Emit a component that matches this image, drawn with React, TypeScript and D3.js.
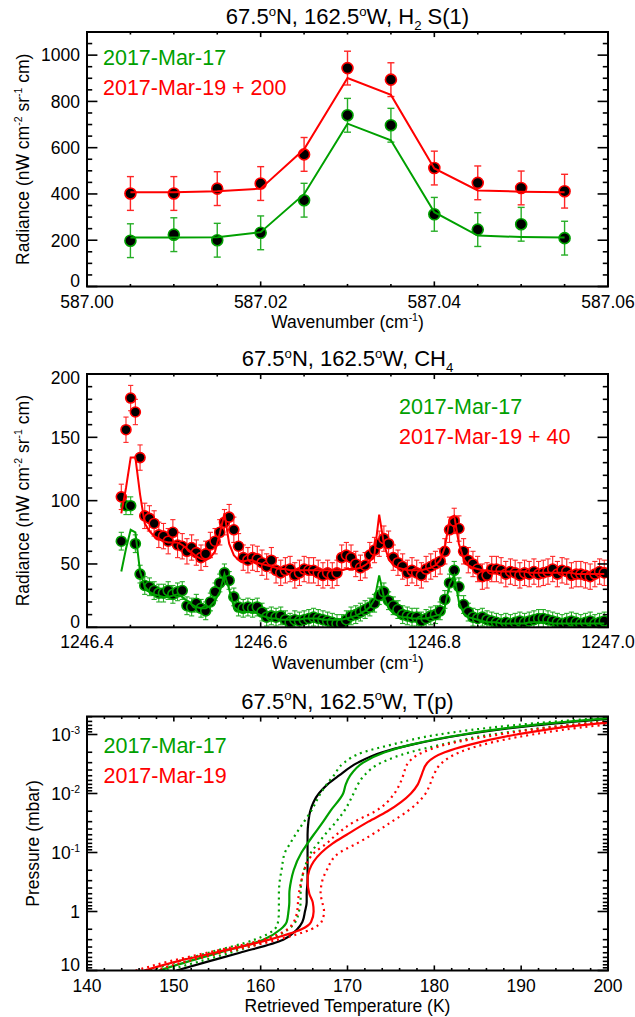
import React from "react";
import * as d3 from "d3";

const FONT = "'Liberation Sans', Arial, Helvetica, sans-serif";
const GREEN = "#00a000";
const RED = "#ff0000";
const BLACK = "#000000";

const LEGEND_MAR17 = "2017-Mar-17";
const LEGEND_MAR19_H2 = "2017-Mar-19 + 200";
const LEGEND_MAR19_CH4 = "2017-Mar-19 + 40";
const LEGEND_MAR19 = "2017-Mar-19";

// ---------- Panel 1: H2 S(1) ----------
const H2_WAVENUMBER = [587.005, 587.01, 587.015, 587.02, 587.025, 587.03, 587.035, 587.04, 587.045, 587.05, 587.055];
const H2_MAR17 = [198, 224, 200, 232, 373, 740, 697, 312, 246, 269, 209];
const H2_MAR17_MODEL = [212, 212, 213, 235, 399, 704, 632, 321, 220, 214, 212];
const H2_MAR19 = [402, 402, 423, 445, 571, 944, 894, 512, 448, 426, 412];
const H2_MAR19_MODEL = [407, 407, 412, 423, 593, 901, 828, 510, 415, 410, 407];
const H2_ERR = 73;
const H2_X_TICKS = [587.0, 587.02, 587.04, 587.06];
const H2_Y_TICKS = [0, 200, 400, 600, 800, 1000];

// ---------- Panel 2: CH4 ----------
const CH4_START = 1246.4395;
const CH4_STEP = 0.0054;
const CH4_MAR17 = [
  68, 96, 96, 66, 42, 33, 32, 29, 27, 27,
  29, 26, 28, 29, 17, 16, 19, 15, 13, 20,
  28, 35, 43, 37, 24, 16, 15, 16, 15, 16,
  12, 8, 9, 8, 9, 6, 4, 6, 5, 6,
  7, 8, 7, 6, 5, 4, 3, 3, 6, 9,
  10, 12, 14, 16, 19, 25, 28, 21, 17, 14,
  10, 9, 8, 8, 5, 7, 9, 10, 13, 22,
  35, 45, 32, 18, 12, 8, 7, 8, 6, 5,
  4, 3, 4, 3, 4, 5, 4, 5, 6, 7,
  7, 6, 5, 4, 3, 4, 5, 4, 3, 4,
  5, 3, 4, 5,
];
const CH4_MAR17_MODEL = [
  44, 62, 77, 75, 44, 32, 28, 26, 25, 24,
  24, 25, 26, 24, 21, 18, 16, 15, 15, 17,
  21, 28, 42, 30, 16, 13, 12, 12, 12, 11,
  9, 8, 7, 7, 6, 6, 6, 6, 6, 7,
  7, 7, 7, 6, 6, 6, 6, 6, 7, 8,
  9, 11, 13, 16, 22, 41, 24, 15, 11, 9,
  8, 8, 7, 7, 7, 7, 8, 9, 10, 16,
  34, 41, 20, 11, 8, 7, 6, 5, 4, 4,
  4, 3, 3, 3, 3, 3, 3, 4, 4, 4,
  4, 4, 3, 3, 3, 3, 3, 3, 3, 3,
  3, 3, 3, 3,
];
const CH4_MAR19 = [
  103, 156, 181, 170, 134, 88, 86, 82, 73, 72,
  68, 75, 65, 64, 60, 63, 59, 55, 58, 65,
  68, 75, 83, 87, 77, 64, 55, 53, 55, 54,
  51, 48, 53, 45, 43, 45, 46, 41, 43, 46,
  45, 45, 43, 41, 43, 41, 43, 55, 57, 55,
  50, 47, 49, 57, 61, 66, 70, 66, 55, 51,
  48, 43, 45, 43, 41, 46, 48, 50, 52, 60,
  77, 84, 78, 60, 53, 50, 46, 40, 41, 46,
  46, 45, 42, 44, 43, 41, 43, 42, 44, 42,
  43, 44, 46, 42, 45, 44, 41, 42, 42, 41,
  40, 42, 44, 43,
];
const CH4_MAR19_MODEL = [
  90, 110, 134, 134, 105, 82, 76, 72, 70, 68,
  67, 67, 67, 65, 62, 59, 56, 54, 53, 55,
  60, 74, 90, 66, 57, 53, 52, 53, 53, 51,
  50, 49, 48, 47, 46, 46, 45, 45, 45, 45,
  45, 45, 45, 45, 45, 45, 45, 45, 46, 46,
  46, 47, 49, 52, 58, 89, 66, 54, 49, 47,
  46, 45, 45, 45, 45, 46, 47, 49, 53, 63,
  85, 88, 66, 54, 49, 47, 46, 45, 45, 44,
  44, 44, 44, 44, 44, 44, 44, 43, 43, 43,
  43, 43, 43, 43, 43, 43, 43, 42, 42, 42,
  42, 42, 42, 42,
];
const CH4_ERR_MAR17 = 7;
const CH4_ERR_MAR19 = 10;
const CH4_WAVENUMBER = CH4_MAR17.map((_, i) => CH4_START + i * CH4_STEP);
const CH4_X_TICKS = [1246.4, 1246.6, 1246.8, 1247.0];
const CH4_Y_TICKS = [0, 50, 100, 150, 200];

// ---------- Panel 3: T(p) ----------
const PRESSURE_MBAR = [10, 7, 5, 3, 2, 1.5, 1, 0.7, 0.5, 0.3, 0.2, 0.1, 0.07, 0.05, 0.03, 0.02, 0.01, 0.007, 0.005, 0.003, 0.002, 0.0015, 0.001, 0.0007, 0.0005];
const T_PRIOR = [150.3, 154, 157.6, 162.6, 164.2, 164.8, 165.1, 165.3, 165.3, 165.4, 165.4, 165.4, 165.4, 165.4, 165.5, 165.7, 166.7, 167.7, 169, 171.2, 174, 177.3, 183.5, 191.6, 203];
const T_MAR17 = [148.3, 151.7, 155.2, 160.3, 162.3, 163, 163.2, 163.3, 163.3, 163.5, 163.8, 164.7, 165.4, 166.1, 167.2, 168, 169.5, 169.8, 170.3, 171.8, 174.3, 177.2, 183.3, 191, 202];
const T_MAR17_LOW = [147.3, 150.5, 154, 159.3, 161.6, 162, 162.1, 162.1, 162.1, 162.2, 162.4, 162.8, 163.4, 164, 165, 165.8, 166.9, 167.6, 168.4, 169.6, 171.8, 175, 180.5, 189, 201];
const T_MAR17_HIGH = [149.2, 153, 156.5, 161, 163.2, 164, 164.4, 164.6, 164.6, 164.7, 165, 165.8, 166.6, 167.4, 168.7, 169.6, 170.7, 171.2, 171.9, 173.9, 177.2, 180.7, 186.6, 195, 205];
const T_MAR19 = [146.6, 150.4, 154.7, 161, 164.7, 165.8, 166.1, 166, 165.6, 165.4, 165.6, 167, 168.3, 169.9, 172.4, 174.6, 177.3, 178.1, 178.5, 179.2, 181.2, 184, 189.5, 196.7, 208];
const T_MAR19_LOW = [145.6, 149.5, 153.8, 160.3, 163.1, 163.8, 164.2, 164.3, 164.4, 164.7, 165, 166.2, 167.6, 168.7, 170.8, 173.2, 175.4, 176, 176.4, 177, 178.7, 181.2, 187.5, 195.5, 207];
const T_MAR19_HIGH = [147.8, 151.5, 155.6, 162, 165.8, 167, 167.3, 167.1, 166.9, 167.1, 167.6, 169.1, 171.1, 172.8, 175.1, 176.9, 179, 179.5, 179.9, 180.9, 182.9, 185.5, 191.3, 199, 210];
const T_X_TICKS = [140, 150, 160, 170, 180, 190, 200];
const P_TICKS = [10, 1, 0.1, 0.01, 0.001];

// ---------- geometry ----------
const LEFT = 87;
const RIGHT = 608;

type Seg = [string, ("sup" | "sub")?];

function RichText(props: { x: number; y: number; segs: Seg[]; size: number; anchor?: string; fill?: string; transform?: string }) {
  const { x, y, segs, size, anchor = "start", fill = BLACK, transform } = props;
  let cur = 0;
  const kids = segs.map((s, i) => {
    const kind = s[1];
    const target = kind === "sup" ? -size * 0.38 : kind === "sub" ? size * 0.28 : 0;
    const dy = target - cur;
    cur = target;
    return (
      <tspan key={i} dy={dy} fontSize={kind ? size * 0.6 : size}>
        {s[0]}
      </tspan>
    );
  });
  return (
    <text x={x} y={y} fontFamily={FONT} fontSize={size} textAnchor={anchor as any} fill={fill} transform={transform}>
      {kids}
    </text>
  );
}

function Frame(props: {
  xs: any; ys: any;
  xMajor: number[]; xMinor: number[]; yMajor: number[]; yMinor: number[];
  xFmt: (v: number) => string; yFmt: (v: number) => Seg[];
  title: Seg[]; xTitle: Seg[]; yTitle: Seg[]; yTitleX: number;
}) {
  const { xs, ys, xMajor, xMinor, yMajor, yMinor, xFmt, yFmt, title, xTitle, yTitle, yTitleX } = props;
  const [x0, x1] = xs.range();
  const [yb, yt] = ys.range();
  const xLen = 0.02 * (yb - yt);
  const yLen = 0.02 * (x1 - x0);
  const yMid = (yb + yt) / 2;
  const xMid = (x0 + x1) / 2;
  return (
    <g>
      {xMajor.map((v, i) => (
        <g key={"xM" + i}>
          <line x1={xs(v)} x2={xs(v)} y1={yb} y2={yb - xLen} stroke={BLACK} strokeWidth={1.6} />
          <line x1={xs(v)} x2={xs(v)} y1={yt} y2={yt + xLen} stroke={BLACK} strokeWidth={1.6} />
        </g>
      ))}
      {xMinor.map((v, i) => (
        <g key={"xm" + i}>
          <line x1={xs(v)} x2={xs(v)} y1={yb} y2={yb - xLen / 2} stroke={BLACK} strokeWidth={1.6} />
          <line x1={xs(v)} x2={xs(v)} y1={yt} y2={yt + xLen / 2} stroke={BLACK} strokeWidth={1.6} />
        </g>
      ))}
      {yMajor.map((v, i) => (
        <g key={"yM" + i}>
          <line x1={x0} x2={x0 + yLen} y1={ys(v)} y2={ys(v)} stroke={BLACK} strokeWidth={1.6} />
          <line x1={x1} x2={x1 - yLen} y1={ys(v)} y2={ys(v)} stroke={BLACK} strokeWidth={1.6} />
        </g>
      ))}
      {yMinor.map((v, i) => (
        <g key={"ym" + i}>
          <line x1={x0} x2={x0 + yLen / 2} y1={ys(v)} y2={ys(v)} stroke={BLACK} strokeWidth={1.6} />
          <line x1={x1} x2={x1 - yLen / 2} y1={ys(v)} y2={ys(v)} stroke={BLACK} strokeWidth={1.6} />
        </g>
      ))}
      <rect x={x0} y={yt} width={x1 - x0} height={yb - yt} fill="none" stroke={BLACK} strokeWidth={2} />
      {xMajor.map((v, i) => (
        <text key={"xl" + i} x={xs(v)} y={yb + 21} fontFamily={FONT} fontSize={17.5} textAnchor="middle">
          {xFmt(v)}
        </text>
      ))}
      {yMajor.map((v, i) => {
        const by = Math.max(yt + 10, Math.min(yb + 0.5, ys(v) + 6.3));
        return <RichText key={"yl" + i} x={x0 - 7} y={by} segs={yFmt(v)} size={17.5} anchor="end" />;
      })}
      <RichText x={xMid} y={yt - 8} segs={title} size={22} anchor="middle" />
      <RichText x={xMid} y={yb + 41.5} segs={xTitle} size={17.5} anchor="middle" />
      <RichText x={yTitleX} y={yMid} segs={yTitle} size={17.5} anchor="middle" transform={`rotate(-90, ${yTitleX}, ${yMid})`} />
    </g>
  );
}

function ErrorBars(props: { xs: any; ys: any; xv: number[]; yv: number[]; err: number; color: string; cap: number; width: number }) {
  const { xs, ys, xv, yv, err, color, cap, width } = props;
  return (
    <g stroke={color} strokeWidth={width} opacity={0.85}>
      {yv.map((v, i) => {
        const x = xs(xv[i]);
        const a = ys(v + err);
        const b = ys(v - err);
        return (
          <g key={i}>
            <line x1={x} x2={x} y1={a} y2={b} />
            <line x1={x - cap} x2={x + cap} y1={a} y2={a} />
            <line x1={x - cap} x2={x + cap} y1={b} y2={b} />
          </g>
        );
      })}
    </g>
  );
}

function Dots(props: { xs: any; ys: any; xv: number[]; yv: number[]; color: string; r: number }) {
  const { xs, ys, xv, yv, color, r } = props;
  return (
    <g>
      {yv.map((v, i) => (
        <circle key={i} cx={xs(xv[i])} cy={ys(v)} r={r} fill={BLACK} stroke={color} strokeWidth={1.6} />
      ))}
    </g>
  );
}

const titleSegs = (last: Seg[]): Seg[] => [["67.5"], ["o", "sup"], ["N, 162.5"], ["o", "sup"], ...last];
const radianceTitle: Seg[] = [["Radiance (nW cm"], ["-2", "sup"], [" sr"], ["-1", "sup"], [" cm)"]];
const wavenumberTitle: Seg[] = [["Wavenumber (cm"], ["-1", "sup"], [")"]];

export default function App() {
  const xs1 = d3.scaleLinear().domain([587.0, 587.06]).range([LEFT, RIGHT]);
  const ys1 = d3.scaleLinear().domain([0, 1100]).range([286.5, 32]);
  const xs2 = d3.scaleLinear().domain([1246.4, 1247.0]).range([LEFT, RIGHT]);
  const ys2 = d3.scaleLinear().domain([0, 200]).range([627.3, 374]);
  const xs3 = d3.scaleLinear().domain([140, 200]).range([LEFT, RIGHT]);
  const ys3 = d3.scaleLog().domain([10, Math.pow(10, -3.305)]).range([970.5, 716.5]);

  const line1 = (vals: number[]) =>
    d3.line<number>().x((_, i) => xs1(H2_WAVENUMBER[i])).y((d) => ys1(d))(vals) || "";
  const line2 = (vals: number[]) =>
    d3.line<number>().x((_, i) => xs2(CH4_WAVENUMBER[i])).y((d) => ys2(d))(vals) || "";
  const line3 = (vals: number[]) =>
    d3.line<number>().x((d) => xs3(d)).y((_, i) => ys3(PRESSURE_MBAR[i])).curve(d3.curveMonotoneY)(vals) || "";

  const h2Minor = d3.range(0, 13).map((i) => 587 + i * 0.005).filter((v) => !H2_X_TICKS.some((t) => Math.abs(t - v) < 1e-6));
  const h2YMinor = d3.range(0, 1101, 50).filter((v) => v % 200 !== 0);
  const ch4Minor = d3.range(0, 13).map((i) => 1246.4 + i * 0.05).filter((v) => !CH4_X_TICKS.some((t) => Math.abs(t - v) < 1e-6));
  const ch4YMinor = d3.range(0, 201, 10).filter((v) => v % 50 !== 0);
  const tMinor = d3.range(140, 201, 2).filter((v) => v % 10 !== 0);
  const pMinor: number[] = [];
  [-4, -3, -2, -1, 0].forEach((e) => {
    for (let m = 2; m <= 9; m++) {
      const v = m * Math.pow(10, e);
      if (v <= 10 && v >= Math.pow(10, -3.305)) pMinor.push(v);
    }
  });
  const pFmt = (v: number): Seg[] => {
    const e = Math.round(Math.log10(v));
    if (e === 0) return [["1"]];
    if (e === 1) return [["10"]];
    return [["10"], [String(e), "sup"]];
  };

  return (
    <svg width={635} height={1017} style={{ display: "block", position: "absolute", left: 0, top: 0 }}>
      <rect x={0} y={0} width={635} height={1017} fill="#ffffff" />
      <defs>
        <clipPath id="clip1"><rect x={LEFT} y={32} width={RIGHT - LEFT} height={286.5 - 32} /></clipPath>
        <clipPath id="clip2"><rect x={LEFT} y={374} width={RIGHT - LEFT} height={627.3 - 374} /></clipPath>
        <clipPath id="clip3"><rect x={LEFT} y={716.5} width={RIGHT - LEFT} height={970.5 - 716.5} /></clipPath>
      </defs>

      {/* Panel 1 */}
      <g clipPath="url(#clip1)">
        <ErrorBars xs={xs1} ys={ys1} xv={H2_WAVENUMBER} yv={H2_MAR17} err={H2_ERR} color={GREEN} cap={3.5} width={1.4} />
        <ErrorBars xs={xs1} ys={ys1} xv={H2_WAVENUMBER} yv={H2_MAR19} err={H2_ERR} color={RED} cap={3.5} width={1.4} />
        <Dots xs={xs1} ys={ys1} xv={H2_WAVENUMBER} yv={H2_MAR17} color={GREEN} r={5.5} />
        <Dots xs={xs1} ys={ys1} xv={H2_WAVENUMBER} yv={H2_MAR19} color={RED} r={5.5} />
        <path d={line1(H2_MAR17_MODEL)} fill="none" stroke={GREEN} strokeWidth={2} />
        <path d={line1(H2_MAR19_MODEL)} fill="none" stroke={RED} strokeWidth={2} />
      </g>
      <Frame
        xs={xs1} ys={ys1}
        xMajor={H2_X_TICKS} xMinor={h2Minor} yMajor={H2_Y_TICKS} yMinor={h2YMinor}
        xFmt={(v) => v.toFixed(2)} yFmt={(v) => [[String(v)]]}
        title={titleSegs([["W, H"], ["2", "sub"], [" S(1)"]])}
        xTitle={wavenumberTitle} yTitle={radianceTitle} yTitleX={29}
      />
      <text x={103} y={65} fontFamily={FONT} fontSize={21.5} fill={GREEN}>{LEGEND_MAR17}</text>
      <text x={103} y={94.5} fontFamily={FONT} fontSize={21.5} fill={RED}>{LEGEND_MAR19_H2}</text>

      {/* Panel 2 */}
      <g clipPath="url(#clip2)">
        <ErrorBars xs={xs2} ys={ys2} xv={CH4_WAVENUMBER} yv={CH4_MAR17} err={CH4_ERR_MAR17} color={GREEN} cap={2.6} width={1.1} />
        <ErrorBars xs={xs2} ys={ys2} xv={CH4_WAVENUMBER} yv={CH4_MAR19} err={CH4_ERR_MAR19} color={RED} cap={2.6} width={1.1} />
        <Dots xs={xs2} ys={ys2} xv={CH4_WAVENUMBER} yv={CH4_MAR17} color={GREEN} r={5} />
        <Dots xs={xs2} ys={ys2} xv={CH4_WAVENUMBER} yv={CH4_MAR19} color={RED} r={5} />
        <path d={line2(CH4_MAR17_MODEL)} fill="none" stroke={GREEN} strokeWidth={2} />
        <path d={line2(CH4_MAR19_MODEL)} fill="none" stroke={RED} strokeWidth={2} />
      </g>
      <Frame
        xs={xs2} ys={ys2}
        xMajor={CH4_X_TICKS} xMinor={ch4Minor} yMajor={CH4_Y_TICKS} yMinor={ch4YMinor}
        xFmt={(v) => v.toFixed(1)} yFmt={(v) => [[String(v)]]}
        title={titleSegs([["W, CH"], ["4", "sub"]])}
        xTitle={wavenumberTitle} yTitle={radianceTitle} yTitleX={29}
      />
      <text x={399} y={414} fontFamily={FONT} fontSize={21.5} fill={GREEN}>{LEGEND_MAR17}</text>
      <text x={399} y={444} fontFamily={FONT} fontSize={21.5} fill={RED}>{LEGEND_MAR19_CH4}</text>

      {/* Panel 3 */}
      <g clipPath="url(#clip3)" fill="none">
        <path d={line3(T_PRIOR)} stroke={BLACK} strokeWidth={2.2} />
        <path d={line3(T_MAR17_LOW)} stroke={GREEN} strokeWidth={2.2} strokeDasharray="2,4" />
        <path d={line3(T_MAR17_HIGH)} stroke={GREEN} strokeWidth={2.2} strokeDasharray="2,4" />
        <path d={line3(T_MAR17)} stroke={GREEN} strokeWidth={2.2} />
        <path d={line3(T_MAR19_LOW)} stroke={RED} strokeWidth={2.2} strokeDasharray="2,4" />
        <path d={line3(T_MAR19_HIGH)} stroke={RED} strokeWidth={2.2} strokeDasharray="2,4" />
        <path d={line3(T_MAR19)} stroke={RED} strokeWidth={2.2} />
      </g>
      <Frame
        xs={xs3} ys={ys3}
        xMajor={T_X_TICKS} xMinor={tMinor} yMajor={P_TICKS} yMinor={pMinor}
        xFmt={(v) => String(v)} yFmt={pFmt}
        title={titleSegs([["W, T(p)"]])}
        xTitle={[["Retrieved Temperature (K)"]]} yTitle={[["Pressure (mbar)"]]} yTitleX={39}
      />
      <text x={103.5} y={752.5} fontFamily={FONT} fontSize={21.5} fill={GREEN}>{LEGEND_MAR17}</text>
      <text x={103.5} y={783} fontFamily={FONT} fontSize={21.5} fill={RED}>{LEGEND_MAR19}</text>
    </svg>
  );
}
